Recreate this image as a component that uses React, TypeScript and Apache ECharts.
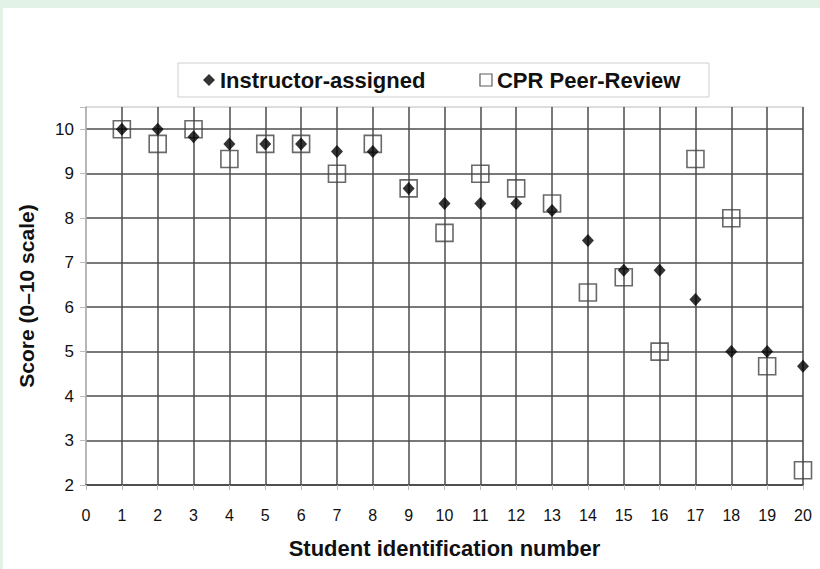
import React, { useEffect, useRef } from "react";
import * as echarts from "echarts";

const studentIds = [1, 2, 3, 4, 5, 6, 7, 8, 9, 10, 11, 12, 13, 14, 15, 16, 17, 18, 19, 20];
const instructorScores = [10, 10, 9.83, 9.67, 9.67, 9.67, 9.5, 9.5, 8.67, 8.33, 8.33, 8.33, 8.17, 7.5, 6.83, 6.83, 6.17, 5, 5, 4.67];
const peerReviewScores = [10, 9.67, 10, 9.33, 9.67, 9.67, 9.0, 9.67, 8.67, 7.67, 9.0, 8.67, 8.33, 6.33, 6.67, 5, 9.33, 8.0, 4.67, 2.33];
const seriesNames = ["Instructor-assigned", "CPR Peer-Review"];
const xAxisTitle = "Student identification number";
const yAxisTitle = "Score (0\u201310 scale)";

const FONT = "'Liberation Sans', Arial, sans-serif";

export default function App() {
  const ref = useRef<HTMLDivElement>(null);
  useEffect(() => {
    if (!ref.current) return;
    const chart = echarts.init(ref.current, null, { renderer: "svg" });
    chart.setOption({
      animation: false,
      backgroundColor: "#ffffff",
      textStyle: { fontFamily: FONT },
      graphic: [
        {
          type: "rect",
          shape: { x: 175, y: 55, width: 531, height: 34 },
          style: { fill: "#ffffff", stroke: "#cfcfcf", lineWidth: 1 },
          z: 0,
        },
      ],
      legend: {
        left: 200,
        top: 61,
        padding: 0,
        itemGap: 54,
        itemWidth: 12,
        itemHeight: 12,
        textStyle: { fontFamily: FONT, fontSize: 22, fontWeight: "bold", color: "#111" },
        data: [
          { name: seriesNames[0], icon: "diamond", itemStyle: { color: "#000" } },
          { name: seriesNames[1], icon: "rect", itemStyle: { color: "transparent", borderColor: "#333", borderWidth: 1.2 } },
        ],
        z: 5,
      },
      grid: {
        left: 83,
        right: 17,
        top: 99,
        bottom: 84,
        show: true,
        borderColor: "#bbbbbb",
        borderWidth: 1,
      },
      xAxis: {
        type: "value",
        min: 0,
        max: 20,
        interval: 1,
        name: xAxisTitle,
        nameLocation: "middle",
        nameGap: 52,
        nameTextStyle: { fontFamily: FONT, fontSize: 22, fontWeight: "bold", color: "#111" },
        axisLine: { show: true, lineStyle: { color: "#444", width: 1.5 } },
        axisTick: { show: true, length: 5, lineStyle: { color: "#bbb" } },
        axisLabel: { margin: 22, fontSize: 16, color: "#111", fontFamily: FONT },
        splitLine: { show: true, showMinLine: false, lineStyle: { color: "#4d4d4d", width: 1.5 } },
      },
      yAxis: {
        type: "value",
        min: 2,
        max: 10.5,
        interval: 1,
        name: yAxisTitle,
        nameLocation: "middle",
        nameGap: 49,
        nameTextStyle: { fontFamily: FONT, fontSize: 21, fontWeight: "bold", color: "#111" },
        axisLine: { show: true, lineStyle: { color: "#aaaaaa", width: 1.5 } },
        axisTick: { show: true, length: 6, lineStyle: { color: "#bbb" } },
        axisLabel: {
          margin: 12,
          fontSize: 17,
          color: "#111",
          fontFamily: FONT,
          formatter: (v: number) => (Number.isInteger(v) ? String(v) : ""),
        },
        splitLine: { show: true, showMaxLine: false, lineStyle: { color: "#4d4d4d", width: 1.5 } },
      },
      series: [
        {
          name: seriesNames[1],
          type: "scatter",
          symbol: "rect",
          symbolSize: 17,
          itemStyle: { color: "transparent", borderColor: "#444", borderWidth: 1.6 },
          data: studentIds.map((id, i) => [id, peerReviewScores[i]]),
          z: 3,
        },
        {
          name: seriesNames[0],
          type: "scatter",
          symbol: "diamond",
          symbolSize: [12, 13],
          itemStyle: { color: "#000" },
          data: studentIds.map((id, i) => [id, instructorScores[i]]),
          z: 4,
        },
      ],
    });
    return () => chart.dispose();
  }, []);

  return (
    <div style={{ position: "fixed", left: 0, top: 0, width: 820, height: 569, background: "#e3f2e7" }}>
      <div ref={ref} style={{ position: "absolute", left: 3, top: 8, width: 817, height: 561 }} />
    </div>
  );
}
